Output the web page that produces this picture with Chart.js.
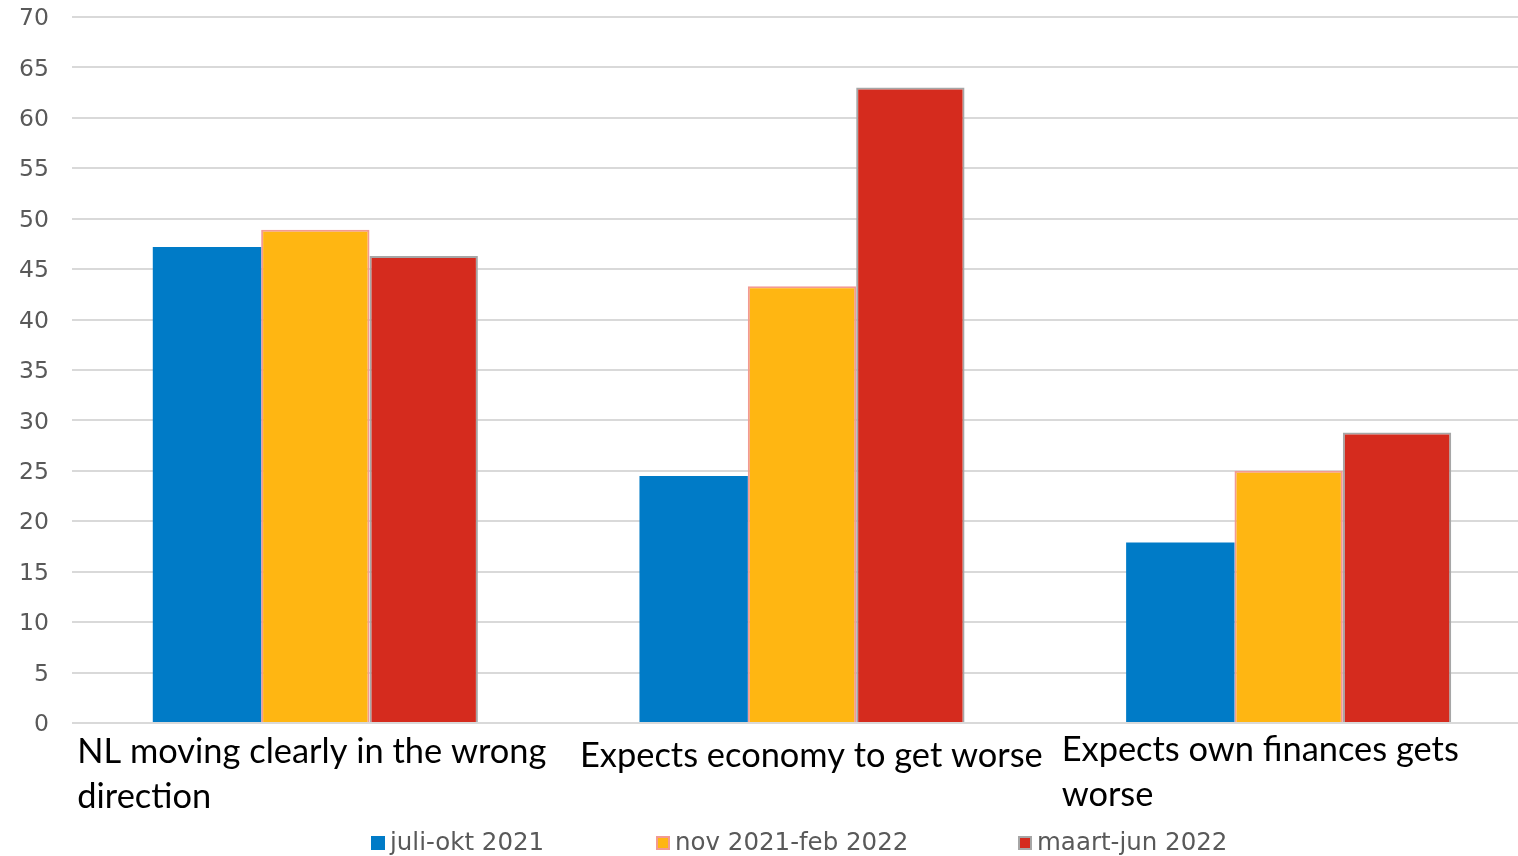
<!DOCTYPE html>
<html>
<head>
<meta charset="utf-8">
<script src="https://cdn.jsdelivr.net/npm/chart.js@4/dist/chart.umd.min.js"></script>
<style>
  html, body { margin: 0; padding: 0; background: #ffffff; }
  #frame { width: 1518px; height: 856px; overflow: hidden; position: relative; }
  #wrap { width: 1532px; height: 856px; position: absolute; left: 0; top: 0; }
</style>
</head>
<body>
<div id="frame"><div id="wrap"><canvas id="chart"></canvas></div></div>
<script>
// Survey categories (each entry is the wrapped label lines)
const categories = [
  ["NL moving clearly in the wrong", "direction"],
  ["Expects economy to get worse"],
  ["Expects own finances gets", "worse"]
];

// Period names
const periods = ["juli-okt 2021", "nov 2021-feb 2022", "maart-jun 2022"];

// Share of respondents (%) per period
const juliOkt2021 = [47.2, 24.5, 17.9];
const nov2021Feb2022 = [48.9, 43.3, 25.0];
const maartJun2022 = [46.3, 63.0, 28.8];

// Y axis ticks
const yTicks = [0, 5, 10, 15, 20, 25, 30, 35, 40, 45, 50, 55, 60, 65, 70];

const fills = ["#007BC7", "#FFB612", "#D52B1E"];
const edges = ["#007BC7", "#F29A93", "#A6A6A6"];
const edgeWidths = [0, 2, 2];

// Category label placement relative to each category centre
const labelDx = [-238, -222, -227];
const labelBaseline = [763, 767, 761];
const labelLineGap = 45;

// Legend placement
const legendBoxX = [371, 656, 1018];
const legendY = 843;

// Plot area edges on the canvas
const plotTop = 17;

const categoryLabels = {
  id: "categoryLabels",
  afterDraw(chart) {
    const ctx = chart.ctx;
    const x = chart.scales.x;
    ctx.save();
    ctx.fillStyle = "#000000";
    ctx.font = "34.4px Lato";
    ctx.textAlign = "left";
    ctx.textBaseline = "alphabetic";
    chart.data.labels.forEach((lines, i) => {
      const left = x.getPixelForValue(i) + labelDx[i];
      lines.forEach((line, j) => {
        ctx.fillText(line, left, labelBaseline[i] + j * labelLineGap);
      });
    });
    ctx.restore();
  }
};

const periodLegend = {
  id: "periodLegend",
  afterDraw(chart) {
    const ctx = chart.ctx;
    ctx.save();
    ctx.font = "24.5px 'DejaVu Sans'";
    ctx.textBaseline = "middle";
    ctx.textAlign = "left";
    chart.data.datasets.forEach((ds, i) => {
      const bx = legendBoxX[i];
      const by = legendY - 7;
      ctx.fillStyle = ds.borderWidth ? ds.borderColor : ds.backgroundColor;
      ctx.fillRect(bx, by, 14, 14);
      ctx.fillStyle = ds.backgroundColor;
      const b = ds.borderWidth ? 2 : 0;
      ctx.fillRect(bx + b, by + b, 14 - 2 * b, 14 - 2 * b);
      ctx.fillStyle = "#595959";
      ctx.fillText(ds.label, bx + 19, legendY + 1);
    });
    ctx.restore();
  }
};

// Keeps the plot area's top edge at a fixed canvas position
const fixedTop = {
  id: "fixedTop",
  afterLayout(chart) {
    const y = chart.scales.y;
    const shift = chart.chartArea.top - plotTop;
    if (shift !== 0) {
      chart.chartArea.top = plotTop;
      chart.chartArea.height = chart.chartArea.bottom - plotTop;
      y.top = plotTop;
      y.height = y.bottom - plotTop;
      y.configure();
    }
  }
};

const seriesValues = [juliOkt2021, nov2021Feb2022, maartJun2022];

new Chart(document.getElementById("chart"), {
  type: "bar",
  data: {
    labels: categories,
    datasets: periods.map((p, i) => ({
      label: p,
      data: seriesValues[i],
      backgroundColor: fills[i],
      borderColor: edges[i],
      borderWidth: edgeWidths[i],
      borderSkipped: "bottom",
      categoryPercentage: 0.668,
      barPercentage: 1.0
    }))
  },
  options: {
    responsive: true,
    maintainAspectRatio: false,
    animation: false,
    layout: { padding: 0 },
    plugins: {
      legend: { display: false },
      tooltip: { enabled: false }
    },
    scales: {
      x: {
        grid: { display: false },
        border: { display: false },
        ticks: { display: false },
        afterFit(scale) { scale.height = 133; }
      },
      y: {
        min: 0,
        max: 70,
        afterBuildTicks(scale) { scale.ticks = yTicks.map(v => ({ value: v })); },
        grid: { color: "#D9D9D9", lineWidth: 2, drawTicks: false },
        border: { display: false },
        ticks: {
          color: "#595959",
          font: { family: "DejaVu Sans", size: 23.5 },
          padding: 23,
          labelOffset: 2
        },
        afterFit(scale) { scale.width = 72; }
      }
    }
  },
  plugins: [fixedTop, categoryLabels, periodLegend]
});
</script>
</body>
</html>
